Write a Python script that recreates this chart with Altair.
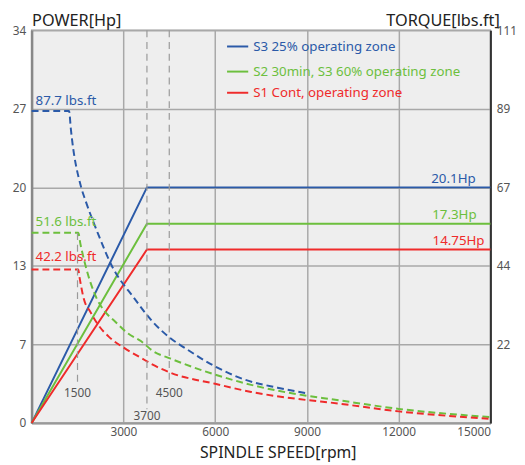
import altair as alt
import pandas as pd

# ---------------- data ----------------
SERIES = ["S3", "S2", "S1"]
LEGEND_LABELS = ["S3 25% operating zone", "S2 30min, S3 60% operating zone", "S1 Cont, operating zone"]
COLORS = ["#2b5aa8", "#6cbf3d", "#ef2b2b"]

# power curves (Hp) - solid
power_rpm = [0, 3770, 15000]
s3_power = [0, 20.1, 20.1]
s2_power = [0, 17.0, 17.0]
s1_power = [0, 14.8, 14.8]
power_labels = ["20.1Hp", "17.3Hp", "14.75Hp"]

# torque curves (lbs.ft) - dashed
s3_torque_rpm = [0, 1225, 1280, 1620, 1760, 2190, 2600, 3370, 3960, 4550, 5030, 6000, 6960, 8040, 9000]
s3_torque = [88.2, 88.2, 83.3, 66.6, 62.9, 53.1, 44.8, 35.1, 28.6, 23.9, 21.1, 16.0, 12.3, 10.0, 8.4]
s2_torque_rpm = [0, 1523, 1600, 1761, 2134, 2405, 2727, 3155, 3583, 3959, 4548, 5997, 7178, 9004, 9754, 12007, 15000]
s2_torque = [53.8, 53.8, 50.4, 44.5, 35.1, 31.4, 28.7, 25.3, 23.1, 20.4, 18.2, 13.7, 10.8, 7.7, 6.8, 4.0, 1.7]
s1_torque_rpm = [0, 1523, 1568, 1706, 1922, 2189, 2511, 3048, 3583, 3959, 4548, 5997, 7178, 9004, 9754, 12007, 15000]
s1_torque = [43.4, 43.4, 41.1, 35.1, 31.4, 27.6, 24.5, 21.1, 18.4, 16.5, 14.2, 11.1, 8.8, 6.5, 5.8, 3.3, 1.2]
torque_labels = ["87.7 lbs.ft", "51.6 lbs.ft", "42.2 lbs.ft"]

# axes
rpm_ticks = [3000, 6000, 9000, 12000, 15000]
power_ticks = [0, 6.7, 13.4, 20.1, 26.8, 33.5]
torque_ticks = [22.2, 44.4, 66.6, 88.8, 111]

# reference speeds
guide_rpm = [1500, 3770, 4500]
guide_labels = ["1500", "3700", "4500"]

# ---------------- tables ----------------
power_rows = []
for s, vals in zip(SERIES, [s3_power, s2_power, s1_power]):
    for r, v in zip(power_rpm, vals):
        power_rows.append({"series": s, "rpm": r, "value": v})
power_df = pd.DataFrame(power_rows)

torque_rows = []
for s, rr, vals in zip(SERIES, [s3_torque_rpm, s2_torque_rpm, s1_torque_rpm],
                       [s3_torque, s2_torque, s1_torque]):
    for r, v in zip(rr, vals):
        torque_rows.append({"series": s, "rpm": r, "value": v})
torque_df = pd.DataFrame(torque_rows)

FONT = "Noto Sans"
LABEL_COLOR = "#555555"

xs = alt.Scale(domain=[0, 15000], nice=False, zero=True)
ps = alt.Scale(domain=[0, 33.5], nice=False)
ts = alt.Scale(domain=[0, 111], nice=False)
color = alt.Color("series:N", scale=alt.Scale(domain=SERIES, range=COLORS), legend=None)

x_axis = alt.Axis(values=rpm_ticks, format="d", title="SPINDLE SPEED[rpm]", grid=True,
                  gridColor="#a8a8a8", gridWidth=1.5, domainColor="#9a9a9a", domainWidth=2,
                  ticks=False, labelPadding=4, labelFontSize=12, labelColor=LABEL_COLOR,
                  labelFont=FONT, titleFont=FONT, titleFontSize=16, titleFontWeight="normal",
                  titleColor="#222222", titleX=250, titleY=35, titleAlign="center",
                  titleBaseline="alphabetic")

left_axis = alt.Axis(values=power_ticks, title="POWER[Hp]", grid=True,
                     gridColor="#a8a8a8", gridWidth=1.5, domainColor="#888888", domainWidth=2.5,
                     ticks=False, labelPadding=6, labelFontSize=12, labelColor=LABEL_COLOR,
                     labelFont=FONT, labelExpr="round(datum.value)",
                     titleFont=FONT, titleFontSize=16.5, titleFontWeight="normal", titleColor="#222222",
                     titleAngle=0, titleX=0, titleY=-5, titleAlign="left", titleBaseline="alphabetic")

right_axis = alt.Axis(values=torque_ticks, title="TORQUE[lbs.ft]", orient="right", grid=False,
                      domainColor="#333333", domainWidth=2,
                      ticks=False, labelPadding=6, labelFontSize=12, labelColor=LABEL_COLOR,
                      labelFont=FONT, labelExpr="round(datum.value)",
                      titleFont=FONT, titleFontSize=16.5, titleFontWeight="normal", titleColor="#222222",
                      titleAngle=0, titleX=9, titleY=-5, titleAlign="right", titleBaseline="alphabetic")

X = alt.X("rpm:Q", scale=xs, axis=x_axis)

layers = []

# power lines (left axis)
layers.append(alt.Chart(power_df).mark_line(strokeWidth=2).encode(
    x=X,
    y=alt.Y("value:Q", scale=ps, axis=left_axis),
    color=color,
    detail="series:N",
))

# torque lines (right axis)
layers.append(alt.Chart(torque_df).mark_line(strokeWidth=2, strokeDash=[7, 4],
                                             interpolate="monotone").encode(
    x=X,
    y=alt.Y("value:Q", scale=ts, axis=right_axis),
    color=color,
    detail="series:N",
))

# reference speed rules + labels
guide_df = pd.DataFrame({"rpm": guide_rpm, "label": guide_labels})
guide_tops = [206, 0, 0]
guide_bottoms = [361, 385, 359]
guide_label_y = [369, 392, 369]
for i in range(3):
    sub = guide_df.iloc[[i]]
    layers.append(
        alt.Chart(sub).mark_rule(color="#9a9a9a", strokeDash=[7, 5], strokeWidth=1.2).encode(
            x=X, y=alt.value(guide_tops[i]), y2=alt.value(guide_bottoms[i]))
    )
    layers.append(
        alt.Chart(sub).mark_text(font=FONT, fontSize=12, color=LABEL_COLOR, baseline="middle").encode(
            x=X, y=alt.value(guide_label_y[i]), text="label:N")
    )

# power value labels
p_dx = [-15, -14, -6]
for i, s in enumerate(SERIES):
    sub = power_df[(power_df.series == s) & (power_df.rpm == power_rpm[-1])].assign(label=power_labels[i])
    layers.append(
        alt.Chart(sub).mark_text(font=FONT, fontSize=13.5, align="right", baseline="alphabetic",
                                 dx=p_dx[i], dy=-4.5, color=COLORS[i]).encode(
            x=X, y=alt.Y("value:Q", scale=ps, axis=None), text="label:N")
    )

# torque value labels
t_dy = [-6, -7, -9]
for i, s in enumerate(SERIES):
    sub = torque_df[(torque_df.series == s) & (torque_df.rpm == 0)].assign(label=torque_labels[i])
    layers.append(
        alt.Chart(sub).mark_text(font=FONT, fontSize=13.5, align="left", baseline="alphabetic",
                                 dx=4, dy=t_dy[i], color=COLORS[i]).encode(
            x=X, y=alt.Y("value:Q", scale=ts, axis=None), text="label:N")
    )

# legend
legend_df = pd.DataFrame({"series": SERIES, "label": LEGEND_LABELS})
legend_y = [16.5, 42, 63.5]
for i in range(3):
    sub = legend_df.iloc[[i]]
    layers.append(
        alt.Chart(sub).mark_rule(color=COLORS[i], strokeWidth=2).encode(
            x=alt.value(198.5), x2=alt.value(220), y=alt.value(legend_y[i]))
    )
    layers.append(
        alt.Chart(sub).mark_text(font=FONT, fontSize=13.5, align="left", baseline="middle",
                                 color=COLORS[i]).encode(
            x=alt.value(225), y=alt.value(legend_y[i] + 0.5), text="label:N")
    )

chart = alt.layer(*layers).resolve_scale(y="independent").properties(
    width=466, height=399,
    autosize=alt.AutoSizeParams(type="none"),
    padding={"left": 24, "top": 19, "right": 27, "bottom": 39},
    background="white",
).configure_view(
    fill="#eeeeee", stroke="#9a9a9a", strokeWidth=1.5
)

chart.save("out.html", embed_options={"renderer": "svg", "actions": False})
